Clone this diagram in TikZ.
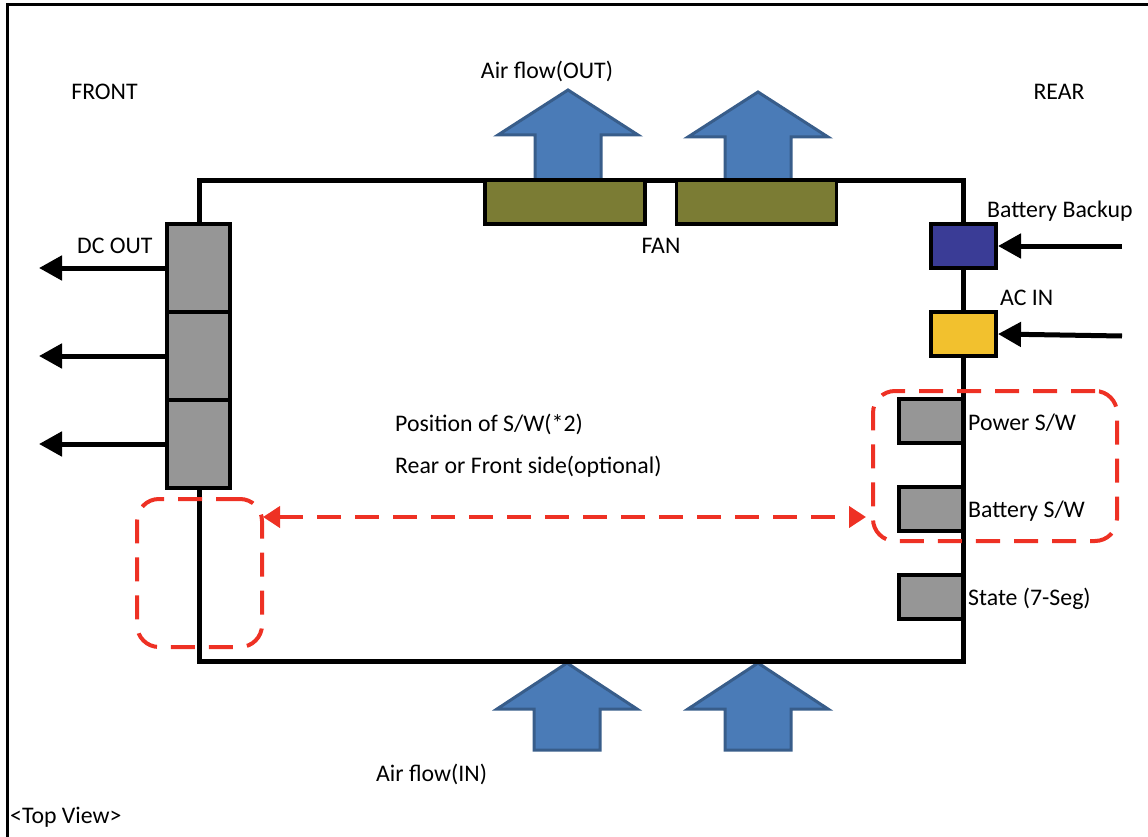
\documentclass[tikz,border=0pt]{standalone}
\usepackage{fontspec}
\setmainfont{Carlito}
\usetikzlibrary{arrows.meta,positioning}
\definecolor{fanolive}{RGB}{123,124,52}
\definecolor{partgrey}{RGB}{150,150,150}
\definecolor{battblue}{RGB}{58,60,150}
\definecolor{acyellow}{RGB}{242,193,46}
\definecolor{airblue}{RGB}{74,123,183}
\definecolor{airedge}{RGB}{56,93,138}
\definecolor{selred}{RGB}{238,49,36}
\tikzstyle{txt}=[font=\fontsize{23.8}{28}\selectfont, inner sep=0pt]
\tikzstyle{chassis}=[draw, line width=5pt, minimum width=764pt, minimum height=480pt, inner sep=0pt]
\tikzstyle{part}=[draw, line width=4pt, inner sep=0pt]
\tikzstyle{fanbox}=[part, line width=3.5pt, fill=fanolive, minimum width=160pt, minimum height=44pt]
\tikzstyle{airarrow}=[fill=airblue, draw=airedge, line width=3pt, line join=miter]
\tikzstyle{wire}=[draw, line width=5pt, -{Triangle[length=23pt,width=24pt]}]
\tikzstyle{selbox}=[draw=selred, line width=4pt, dash pattern=on 24pt off 14pt, rounded corners=22pt, inner sep=0pt]

\begin{document}
\begin{tikzpicture}[x=1pt,y=-1pt]
    \useasboundingbox (0,0) rectangle (1148,837);
    % sheet frame, only top and left edge show
    \draw[line width=3pt] (7,837) -- (7,5) -- (1148,5);
    % air flow arrows, out at the top and in at the bottom
    \foreach \x/\tip/\base/\bot in {568/90/135/181, 758/92/137/181, 567/663/709/750, 758/663/709/750}
        \draw[airarrow] (\x,\tip) -- (\x+70,\base) -- (\x+33,\base) -- (\x+33,\bot)
            -- (\x-33,\bot) -- (\x-33,\base) -- (\x-70,\base) -- cycle;
    % switches and display, under the rear wall
    \foreach \y/\name in {421/pwrsw, 509/batsw, 597/seg}
        \node[part, fill=partgrey, minimum width=64pt, minimum height=44pt] (\name) at (931,\y) {};
    % the unit itself
    \node[chassis] (unit) at (581,421) {};
    % fans
    \foreach \pos/\name in {{(565,202)/fanL}, {(756.5,202)/fanR}}
        \node[fanbox] (\name) at \pos {};
    % DC out connectors on the front side
    \foreach \y/\name in {268/dcA, 356/dcB, 444/dcC} {
        \node[part, fill=partgrey, minimum width=63pt, minimum height=88pt] (\name) at (198.5,\y) {};
        \coordinate (\name out) at (39,\y);
        \path[wire] (\name.west) -- (\name out);
    }
    % inputs on the rear side
    \node[part, fill=battblue, minimum width=65pt, minimum height=44pt] (batt) at (963.5,246) {};
    \node[part, fill=acyellow, minimum width=65pt, minimum height=44pt] (acin) at (963.5,334) {};
    \coordinate (batt src) at (1122,246);
    \coordinate (acin src) at (1122,336);
    \path[wire] (batt src) -- (batt.east);
    \path[wire] (acin src) -- (acin.east);
    % optional switch positions
    \node[selbox, minimum width=244pt, minimum height=150pt] (selR) at (995,466) {};
    \node[selbox, minimum width=125pt, minimum height=148pt] (selL) at (199.5,573) {};
    \coordinate (mvL) at (263,517);
    \coordinate (mvR) at (866,517);
    \draw[draw=selred, line width=4pt, dash pattern=on 24pt off 14pt,
          {Triangle[length=17pt,width=21pt]}-{Triangle[length=17pt,width=21pt]}] (mvL) -- (mvR);
    % texts
    \node[txt] (front) at (104.5,92) {FRONT};
    \node[txt] (rear) at (1059,92) {REAR};
    \node[txt] (airout) at (547,71) {Air flow(OUT)};
    \node[txt] (fan) at (661,246) {FAN};
    \node[txt, anchor=west] (dcout) at (77,246) {DC OUT};
    \node[txt, anchor=west] (battlbl) at (987,211) {Battery Backup};
    \node[txt, anchor=west] (aclbl) at (1000,298) {AC IN};
    \node[txt, anchor=west] (pwrlbl) at (968,423) {Power S/W};
    \node[txt, anchor=west] (batlbl) at (968,511) {Battery S/W};
    \node[txt, anchor=west] (seglbl) at (968,599) {State (7-Seg)};
    \node[txt, anchor=west] (swpos) at (395,424) {Position of S/W(*2)};
    \node[txt, anchor=west] (swside) at (395,467) {Rear or Front side(optional)};
    \node[txt, anchor=west] (airin) at (376,774) {Air flow(IN)};
    \node[txt, anchor=west] (view) at (10,817) {<Top View>};
\end{tikzpicture}
\end{document}
